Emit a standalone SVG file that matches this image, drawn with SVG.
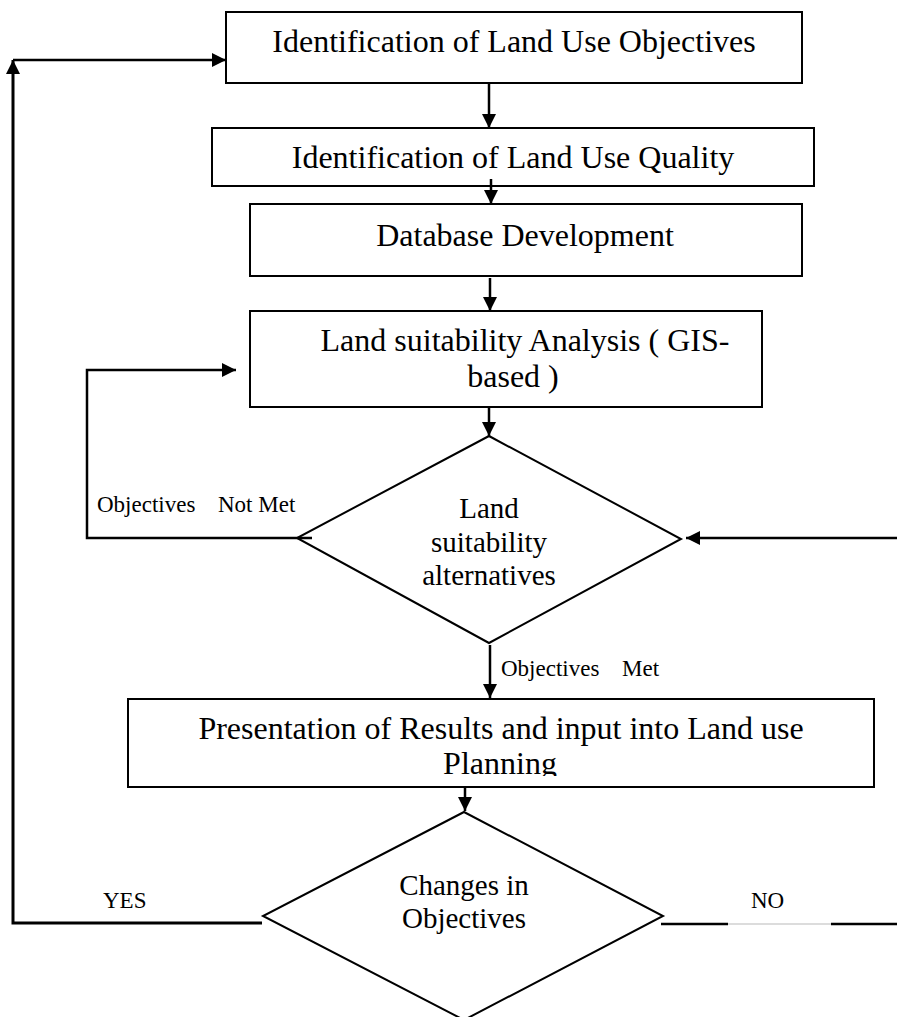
<svg xmlns="http://www.w3.org/2000/svg" width="897" height="1017" viewBox="0 0 897 1017">
<style>
.box{fill:#fff;stroke:#000;stroke-width:2}
.dia{fill:#fff;stroke:#000;stroke-width:2}
.t{font-family:"Liberation Serif","Times New Roman",serif;font-size:32px;fill:#000;text-anchor:middle}
.td{font-family:"Liberation Serif","Times New Roman",serif;font-size:29px;fill:#000;text-anchor:middle}
.tl{font-family:"Liberation Serif","Times New Roman",serif;font-size:23px;fill:#000}
.c{fill:none;stroke:#000;stroke-width:2.5}
</style>
<defs>
<marker id="ah" viewBox="0 0 14 14" refX="14" refY="7" markerWidth="14" markerHeight="14" markerUnits="userSpaceOnUse" orient="auto">
<path d="M0,0 L14,7 L0,14 z" fill="#000"/>
</marker>
<clipPath id="clip5"><rect x="128" y="699" width="746" height="77"/></clipPath>
</defs>
<rect width="897" height="1017" fill="#fff"/>

<g id="n1">
<rect class="box" x="226" y="12" width="576" height="71"/>
<text class="t" x="514" y="52">Identification of Land Use Objectives</text>
</g>
<g id="n2">
<rect class="box" x="212" y="128" width="602" height="58"/>
<text class="t" x="513" y="168">Identification of Land Use Quality</text>
</g>
<g id="n3">
<rect class="box" x="250" y="204" width="552" height="72"/>
<text class="t" x="525" y="246">Database Development</text>
</g>
<g id="n4">
<rect class="box" x="250" y="311" width="512" height="96"/>
<text class="t" x="525" y="351">Land suitability Analysis ( GIS-</text>
<text class="t" x="513" y="387">based )</text>
</g>
<g id="n5">
<polygon class="dia" points="489,436 681,539 489,643 297,538"/>
<text class="td" x="489" y="518">Land</text>
<text class="td" x="489" y="552">suitability</text>
<text class="td" x="489" y="585">alternatives</text>
</g>
<g id="n6">
<rect class="box" x="128" y="699" width="746" height="88"/>
<text class="t" x="501" y="739">Presentation of Results and input into Land use</text>
<text class="t" x="500" y="774" clip-path="url(#clip5)">Planning</text>
</g>
<g id="n7">
<polygon class="dia" points="464,812 663,916 464,1020 263,916"/>
<text class="td" x="464" y="895">Changes in</text>
<text class="td" x="464" y="928">Objectives</text>
</g>

<g id="connectors">
<line class="c" x1="489" y1="83" x2="489" y2="128" marker-end="url(#ah)"/>
<line class="c" x1="491" y1="179" x2="491" y2="204" marker-end="url(#ah)"/>
<line class="c" x1="490" y1="278" x2="490" y2="311" marker-end="url(#ah)"/>
<line class="c" x1="489" y1="407" x2="489" y2="436" marker-end="url(#ah)"/>
<line class="c" x1="490" y1="645" x2="490" y2="698" marker-end="url(#ah)"/>
<line class="c" x1="465" y1="787" x2="465" y2="811" marker-end="url(#ah)"/>
<polyline class="c" points="312,538 87,538 87,370 236,370" marker-end="url(#ah)"/>
<line class="c" x1="897" y1="538" x2="686" y2="538" marker-end="url(#ah)"/>
<polyline class="c" points="262,923 13,923 13,60" style="stroke-width:3" marker-end="url(#ah)"/>
<line class="c" x1="13" y1="60" x2="226" y2="60" marker-end="url(#ah)"/>
<line class="c" x1="661" y1="924" x2="728" y2="924"/>
<line x1="728" y1="924" x2="831" y2="924" stroke="#d0d0d0" stroke-width="1.5"/>
<line class="c" x1="831" y1="924" x2="897" y2="924"/>
</g>

<g id="labels">
<text class="tl" x="97" y="512">Objectives</text>
<text class="tl" x="218" y="512">Not Met</text>
<text class="tl" x="501" y="676">Objectives</text>
<text class="tl" x="622" y="676">Met</text>
<text class="tl" x="103" y="908">YES</text>
<text class="tl" x="751" y="908">NO</text>
</g>
</svg>
